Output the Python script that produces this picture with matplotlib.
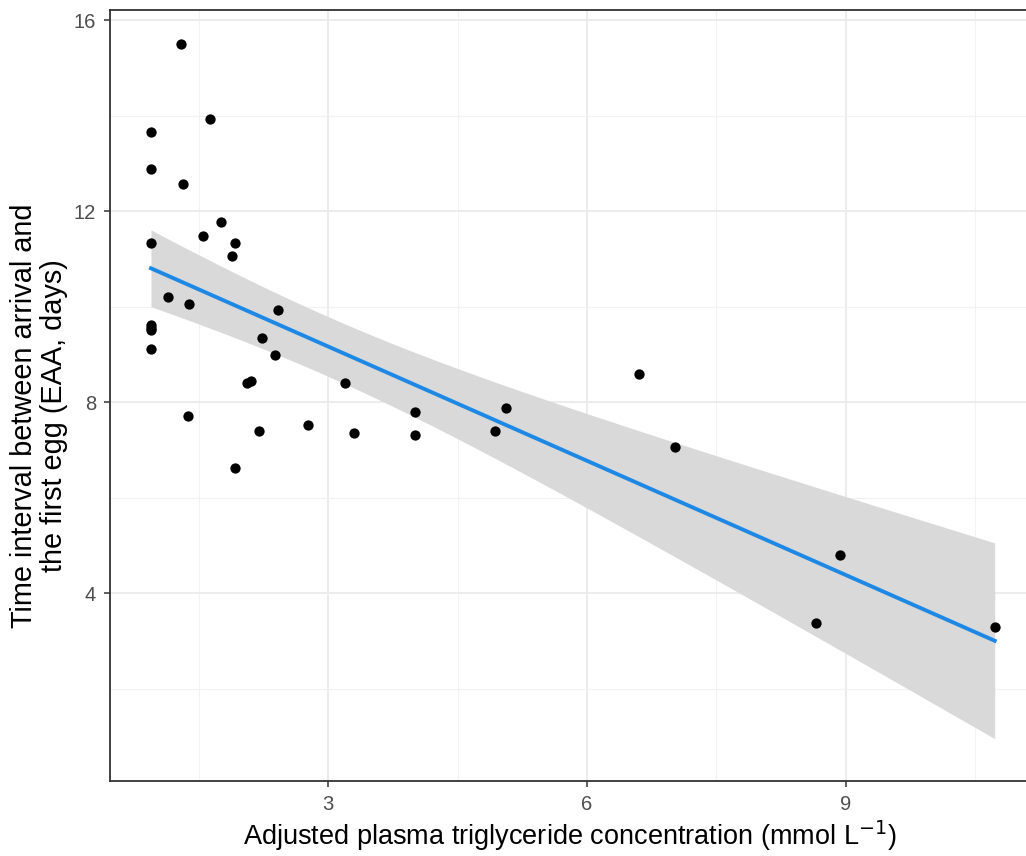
import matplotlib
matplotlib.use("Agg")
import matplotlib.pyplot as plt
import numpy as np

# triglyceride (mmol/L) vs days between arrival and first egg
trig = [1.29, 1.63, 0.945, 0.945, 1.32, 1.76, 1.55, 0.945, 1.92, 1.88,
        1.14, 1.39, 2.42, 0.945, 0.945, 0.945, 0.945, 2.23, 2.38, 2.06,
        2.11, 3.20, 1.38, 4.01, 4.01, 2.77, 2.20, 3.30, 1.92, 5.06,
        4.94, 6.61, 7.02, 8.93, 8.66, 10.73]
eaa = [15.50, 13.93, 13.65, 12.88, 12.56, 11.78, 11.48, 11.32, 11.32, 11.06,
       10.20, 10.06, 9.92, 9.61, 9.55, 9.50, 9.12, 9.33, 8.98, 8.39,
       8.45, 8.40, 7.71, 7.80, 7.31, 7.52, 7.39, 7.36, 6.61, 7.87,
       7.40, 8.59, 7.06, 4.80, 3.38, 3.29]

x_major = [3, 6, 9]
x_minor = [1.5, 4.5, 7.5, 10.5]
y_major = [4, 8, 12, 16]
y_minor = [2, 6, 10, 14]

x = np.array(trig)
y = np.array(eaa)

# linear fit with 95% confidence band (like geom_smooth(method="lm"))
n = len(x)
slope, intercept = np.polyfit(x, y, 1)
resid = y - (slope * x + intercept)
s = np.sqrt(np.sum(resid ** 2) / (n - 2))
t_crit = 2.032  # t(0.975, df=34)
xs = np.linspace(x.min(), x.max(), 200)
ys = slope * xs + intercept
se = s * np.sqrt(1 / n + (xs - x.mean()) ** 2 / np.sum((x - x.mean()) ** 2))

plt.rcParams["font.family"] = ["Liberation Sans", "DejaVu Sans"]

fig = plt.figure(figsize=(10.26, 8.56), dpi=100)
ax = fig.add_axes([110 / 1026, 75 / 856, 927 / 1026, 771.5 / 856])

ax.set_xticks(x_major)
ax.set_xticks(x_minor, minor=True)
ax.set_yticks(y_major)
ax.set_yticks(y_minor, minor=True)
ax.grid(True, which="major", color="#EBEBEB", linewidth=1.3)
ax.grid(True, which="minor", color="#F2F2F2", linewidth=0.8)
ax.set_axisbelow(True)

ax.fill_between(xs, ys - t_crit * se, ys + t_crit * se, color="#D9D9D9",
                linewidth=0, zorder=2)
ax.plot(xs, ys, color="#1E88E5", linewidth=2.8, zorder=3)
ax.scatter(x, y, s=55, color="black", linewidths=0, zorder=4)

ax.set_xlim(0.47, 11.22)
ax.set_ylim(0.063, 16.22)

for sp in ax.spines.values():
    sp.set_color("#333333")
    sp.set_linewidth(1.3)

ax.tick_params(which="major", length=4, width=1.1, color="#333333",
               labelcolor="#4D4D4D", labelsize=14.5, pad=6)
ax.tick_params(which="minor", length=0)

fig.text(570 / 1026, 1 - 845 / 856,
         r"Adjusted plasma triglyceride concentration (mmol L$^{-1}$)",
         ha="center", va="baseline", fontsize=19.5)
fig.text(39 / 1026, 1 - 416 / 856,
         "Time interval between arrival and\nthe first egg (EAA, days)",
         ha="center", va="center", rotation=90, fontsize=20.8,
         multialignment="center", linespacing=1.1)

fig.savefig("out.png", dpi=100)
